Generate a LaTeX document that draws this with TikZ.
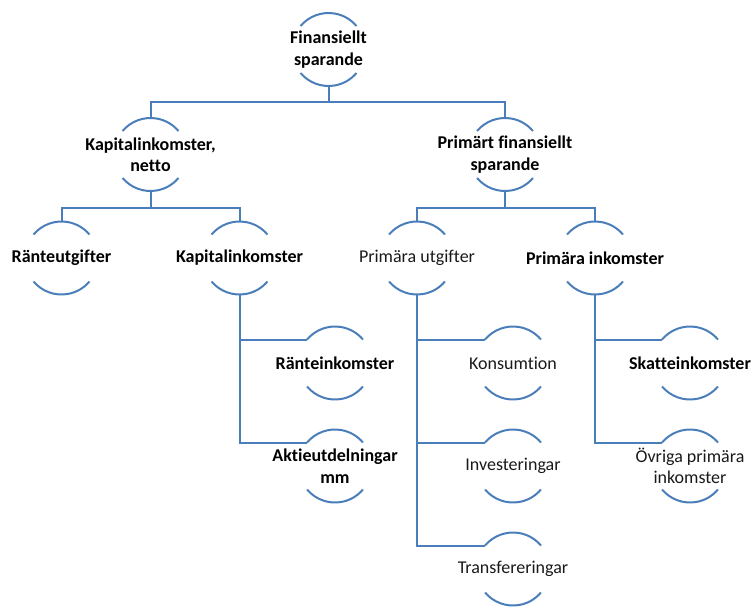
\documentclass[tikz,border=0pt]{standalone}
\usepackage{fontspec}
\setmainfont[Ligatures={NoCommon}]{Carlito}
\definecolor{ln}{RGB}{74,126,187}
\tikzset{
  lbl/.style={align=center, font=\fontsize{18}{21.5}\selectfont, inner sep=0pt, text=black!90},
  bld/.style={align=center, font=\fontsize{18}{21.5}\selectfont\bfseries, inner sep=0pt, text=black},
  conn/.style={draw=ln, line width=2pt}
}
\newcommand\arcnode[4]{%
  \node[#3] (#1) at (#2) {#4};
  \coordinate (#1-t) at ([yshift=36.5pt]#1.center);
  \coordinate (#1-b) at ([yshift=-36.5pt]#1.center);
  \coordinate (#1-l) at ([shift={(140:36.5pt)}]#1.center);
  \begin{scope}[x=1pt,y=1pt]
  \draw[conn] (#1-l) arc[start angle=140,end angle=40,radius=36.5pt];
  \draw[conn] ([shift={(220:36.5pt)}]#1.center) arc[start angle=220,end angle=320,radius=36.5pt];
  \end{scope}
}
\begin{document}
\begin{tikzpicture}[x=1pt,y=-1pt]
\useasboundingbox (0,0) rectangle (754,606);
\arcnode{root}{328.5,49.5}{bld}{Finansiellt\\sparande}
\arcnode{kn}{150.5,154.5}{bld}{Kapitalinkomster,\\netto}
\arcnode{pf}{505,154.5}{bld}{Primärt finansiellt\\sparande}
\arcnode{ru}{61.5,258}{bld}{Ränteutgifter}
\arcnode{ki}{239.5,258}{bld}{Kapitalinkomster}
\arcnode{pu}{417,258}{lbl}{Primära utgifter}
\arcnode{pi}{595,258}{bld}{Primära inkomster}
\arcnode{re}{335,363}{bld}{Ränteinkomster}
\arcnode{ak}{335,466}{bld}{Aktieutdelningar\\mm}
\arcnode{ko}{513,363}{lbl}{Konsumtion}
\arcnode{inv}{513,466}{lbl}{Investeringar}
\arcnode{tr}{513,569}{lbl}{Transfereringar}
\arcnode{sk}{690,363}{bld}{Skatteinkomster}
\arcnode{ov}{690,466}{lbl}{Övriga primära\\inkomster}
% bus connectors
\draw[conn] (root-b) -- ++(0pt,-16pt) -| (kn-t);
\draw[conn] (root-b) -- ++(0pt,-16pt) -| (pf-t);
\draw[conn] (kn-b) -- ++(0pt,-16.5pt) -| (ru-t);
\draw[conn] (kn-b) -- ++(0pt,-16.5pt) -| (ki-t);
\draw[conn] (pf-b) -- ++(0pt,-16.5pt) -| (pu-t);
\draw[conn] (pf-b) -- ++(0pt,-16.5pt) -| (pi-t);
% side branches
\draw[conn] (ki-b) |- (re-l);
\draw[conn] (ki-b) |- (ak-l);
\draw[conn] (pu-b) |- (ko-l);
\draw[conn] (pu-b) |- (inv-l);
\draw[conn] (pu-b) |- (tr-l);
\draw[conn] (pi-b) |- (sk-l);
\draw[conn] (pi-b) |- (ov-l);
\end{tikzpicture}
\end{document}
